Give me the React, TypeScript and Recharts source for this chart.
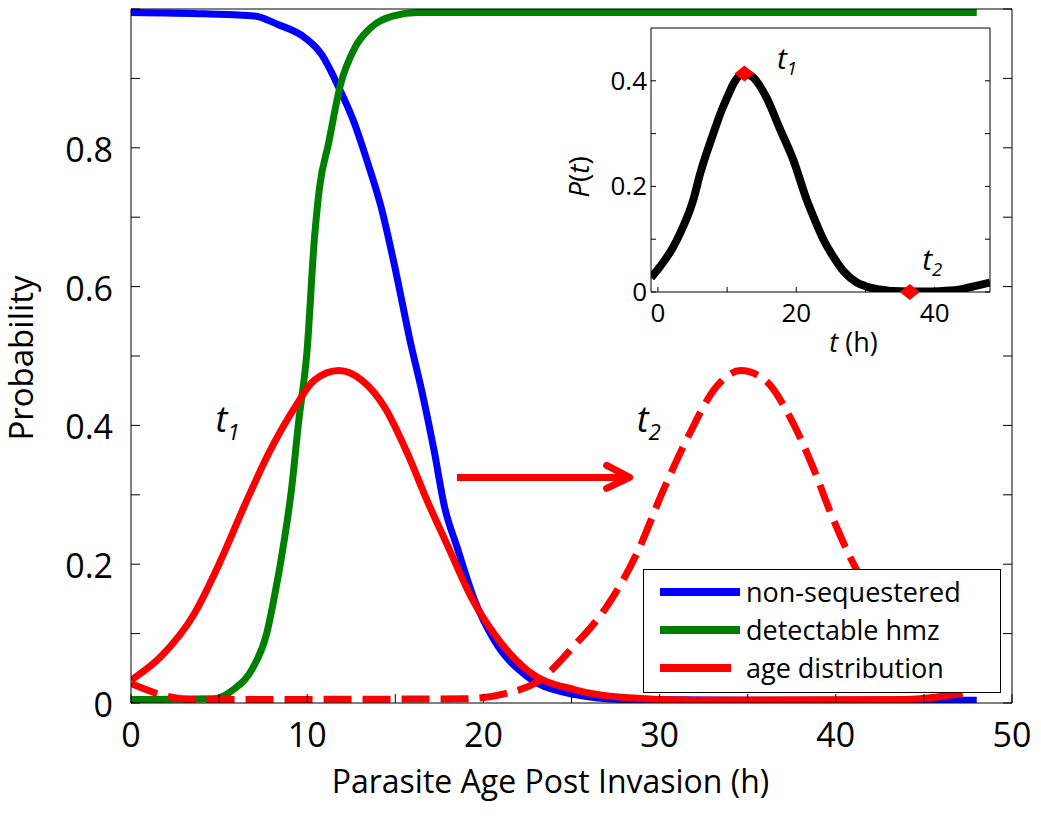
import React from "react";
import { LineChart, Line, XAxis, YAxis, Legend, ReferenceLine, ReferenceDot, CartesianGrid } from "recharts";

const FONT = "'Open Sans', sans-serif";

// main panel: probability vs parasite age (h)
const nonSequestered: [number, number][] = [
  [0, 0.995], [4.2, 0.993], [7.0, 0.99], [8.3, 0.978], [9.85, 0.959], [10.8, 0.935], [11.7, 0.892],
  [12.7, 0.834], [13.4, 0.781], [14.2, 0.714], [14.9, 0.637], [15.9, 0.515], [16.5, 0.45], [17.2, 0.364],
  [17.8, 0.282], [18.5, 0.225], [19.5, 0.148], [20.6, 0.091], [22.5, 0.038], [25.2, 0.012], [28, 0.005],
  [35, 0.004], [48, 0.004],
];
const detectableHmz: [number, number][] = [
  [0, 0.005], [4.7, 0.006], [5.8, 0.019], [6.9, 0.05], [7.7, 0.1], [8.1, 0.148], [8.7, 0.235], [9.1, 0.306],
  [9.5, 0.402], [10.0, 0.51], [10.4, 0.666], [10.7, 0.743], [11.2, 0.805], [11.9, 0.892], [12.7, 0.944],
  [13.6, 0.973], [14.9, 0.99], [16.3, 0.995], [48, 0.995],
];
const ageAtT1: [number, number][] = [
  [0, 0.033], [1.7, 0.067], [3.6, 0.129], [5.1, 0.206], [6.4, 0.282], [7.8, 0.359], [9.3, 0.426],
  [10.4, 0.465], [11.8, 0.479], [13.1, 0.465], [14.4, 0.426], [15.7, 0.359], [16.8, 0.292], [18.0, 0.225],
  [19.3, 0.153], [20.6, 0.1], [22.5, 0.047], [25.2, 0.019], [28, 0.008], [32, 0.004], [44, 0.005],
  [47.2, 0.014],
];
const ageAtT2: [number, number][] = [
  [0, 0.028], [1.7, 0.012], [3.5, 0.005], [18.8, 0.006], [21.3, 0.014], [23.2, 0.033], [25.1, 0.081],
  [27.0, 0.139], [28.7, 0.215], [30.2, 0.306], [31.7, 0.388], [33.2, 0.455], [34.6, 0.479], [36.0, 0.465],
  [37.4, 0.412], [38.7, 0.34], [39.8, 0.268], [40.8, 0.211], [42.0, 0.155], [43.4, 0.1], [45.3, 0.047],
  [48, 0.02],
];
const mainXTicks = [0, 5, 10, 15, 20, 25, 30, 35, 40, 45, 50];
const mainYTicks = [0, 0.1, 0.2, 0.3, 0.4, 0.5, 0.6, 0.7, 0.8, 0.9, 1];
const legendOrder = ["non-sequestered", "detectable hmz", "age distribution"];

// inset: P(t)
const insetCurve: [number, number][] = [
  [-1, 0.027], [0.3, 0.048], [2.2, 0.085], [3.2, 0.111], [5.1, 0.174], [6.1, 0.224], [8.0, 0.3], [9.0, 0.337],
  [10.4, 0.38], [10.9, 0.394], [12.5, 0.414], [13.8, 0.406], [15.7, 0.368], [17.6, 0.31], [19.6, 0.249],
  [21.5, 0.175], [22.5, 0.142], [23.9, 0.1], [25.3, 0.068], [26.8, 0.04], [28.5, 0.02], [30.2, 0.01],
  [32, 0.005], [34, 0.002], [38.7, 0.001], [41.2, 0.002], [43.7, 0.005], [45.1, 0.009], [48, 0.018],
];
const insetMarkers: [number, number][] = [[12.5, 0.414], [36.4, 0]];
const insetXTicks = [0, 10, 20, 30, 40];
const insetYTicks = [0, 0.1, 0.2, 0.3, 0.4];

// annotations (data coords)
const mainTimeLabels = [{ sub: "1", t: 4.8, p: 0.39 }, { sub: "2", t: 28.7, p: 0.39 }];
const insetTimeLabels = [{ sub: "1", t: 17.2, p: 0.423 }, { sub: "2", t: 38.2, p: 0.042 }];
const shiftArrow = { from: 18.5, to: 28.3, p: 0.325 };

const rows = (pts: [number, number][]) => pts.map(([t, p]) => ({ t, p }));

const BottomTick = ({ x, y, payload }: any) => (
  <g>
    <line x1={x} y1={y} x2={x} y2={y - 9} stroke="#000" />
    {payload.value % 10 === 0 && (
      <text x={x} y={y + 44} textAnchor="middle" fontFamily={FONT} fontSize={34} fill="#000">{payload.value}</text>
    )}
  </g>
);
const TopTick = ({ x, y }: any) => <line x1={x} y1={y} x2={x} y2={y + 9} stroke="#000" />;
const LeftTick = ({ x, y, payload }: any) => {
  const v = payload.value;
  const show = Math.round(v * 10) % 2 === 0 && v < 0.95;
  return (
    <g>
      <line x1={x} y1={y} x2={x + 9} y2={y} stroke="#000" />
      {show && (
        <text x={x - 18} y={y + 14} textAnchor="end" fontFamily={FONT} fontSize={34} fill="#000">
          {v === 0 ? "0" : v.toFixed(1)}
        </text>
      )}
    </g>
  );
};
const RightTick = ({ x, y }: any) => <line x1={x} y1={y} x2={x - 9} y2={y} stroke="#000" />;

const InsetBottomTick = ({ x, y, payload }: any) => (
  <g>
    <line x1={x} y1={y} x2={x} y2={y - 5} stroke="#000" />
    {payload.value % 20 === 0 && (
      <text x={x} y={y + 30} textAnchor="middle" fontFamily={FONT} fontSize={26} fill="#000">{payload.value}</text>
    )}
  </g>
);
const InsetTopTick = ({ x, y }: any) => <line x1={x} y1={y} x2={x} y2={y + 5} stroke="#000" />;
const InsetLeftTick = ({ x, y, payload }: any) => {
  const v = payload.value;
  return (
    <g>
      <line x1={x} y1={y} x2={x + 5} y2={y} stroke="#000" />
      {Math.round(v * 10) % 2 === 0 && (
        <text x={x - 4} y={y + 9} textAnchor="end" fontFamily={FONT} fontSize={26} fill="#000">
          {v === 0 ? "0" : v.toFixed(1)}
        </text>
      )}
    </g>
  );
};
const InsetRightTick = ({ x, y }: any) => <line x1={x} y1={y} x2={x - 5} y2={y} stroke="#000" />;

const timeLabel = (sub: string, size: number) => (p: any) => (
  <text x={p.cx} y={p.cy} fontFamily={FONT} fontStyle="italic" fontSize={size} fill="#000">
    t<tspan fontSize={size * 0.62} dy={size * 0.2}>{sub}</tspan>
  </text>
);

const diamond = (p: any) => (
  <polygon
    points={`${p.cx - 10},${p.cy} ${p.cx},${p.cy - 8} ${p.cx + 10},${p.cy} ${p.cx},${p.cy + 8}`}
    fill="#ff0000"
  />
);

const arrowHead = (p: any) => (
  <polyline
    points={`${p.cx - 23},${p.cy - 12} ${p.cx},${p.cy} ${p.cx - 23},${p.cy + 11}`}
    fill="none"
    stroke="#ff0000"
    strokeWidth={7}
    strokeLinecap="round"
    strokeLinejoin="round"
  />
);

const MainXLabel = (props: any) => {
  const vb = props.viewBox;
  return (
    <text x={vb.x + vb.width / 2 - 21} y={vb.y + 90} textAnchor="middle" fontFamily={FONT} fontSize={32} fill="#000">
      Parasite Age Post Invasion (h)
    </text>
  );
};
const MainYLabel = (props: any) => {
  const vb = props.viewBox;
  const cx = vb.x + 33;
  const cy = vb.y + vb.height / 2 + 2;
  return (
    <text x={cx} y={cy} transform={`rotate(-90, ${cx}, ${cy})`} textAnchor="middle" fontFamily={FONT} fontSize={33} fill="#000">
      Probability
    </text>
  );
};
const InsetXLabel = (props: any) => {
  const vb = props.viewBox;
  return (
    <text x={vb.x + vb.width / 2 + 33} y={vb.y + 60} textAnchor="middle" fontFamily={FONT} fontSize={27} fill="#000">
      <tspan fontStyle="italic">t</tspan> (h)
    </text>
  );
};
const InsetYLabel = (props: any) => {
  const vb = props.viewBox;
  const cx = vb.x + 29;
  const cy = vb.y + vb.height / 2 + 17;
  return (
    <text x={cx} y={cy} transform={`rotate(-90, ${cx}, ${cy})`} textAnchor="middle" fontFamily={FONT} fontSize={28} fill="#000">
      <tspan fontStyle="italic">P</tspan>(<tspan fontStyle="italic">t</tspan>)
    </text>
  );
};

const LegendBox = (props: any) => {
  const items = (props.payload || [])
    .filter((it: any) => legendOrder.includes(it.value))
    .sort((a: any, b: any) => legendOrder.indexOf(a.value) - legendOrder.indexOf(b.value));
  return (
    <div
      style={{
        boxSizing: "border-box", width: 358, height: 124, border: "1px solid #000", background: "#fff",
        padding: "3px 0 0 16px", fontFamily: FONT, fontSize: 27, color: "#000",
      }}
    >
      {items.map((it: any) => {
        const short = it.value === "age distribution";
        return (
          <div key={it.value} style={{ display: "flex", alignItems: "center", height: 38 }}>
            <span style={{ display: "inline-block", width: short ? 71 : 80, height: 8, background: it.color, marginRight: short ? 15 : 6 }} />
            <span style={{ lineHeight: "38px" }}>{it.value}</span>
          </div>
        );
      })}
    </div>
  );
};

export default function App() {
  return (
    <div style={{ position: "absolute", left: 0, top: 0, width: 1041, height: 828, background: "#fff" }}>
      <LineChart width={1041} height={828} margin={{ top: 8, right: 28, bottom: 0, left: 0 }}>
        <XAxis
          type="number" dataKey="t" domain={[0, 50]} ticks={mainXTicks} interval={0} allowDataOverflow
          tickSize={0} tickMargin={0} tickLine={false} tick={<BottomTick />} height={125}
          axisLine={{ stroke: "#000" }} label={<MainXLabel />}
        />
        <XAxis
          xAxisId="top" orientation="top" type="number" domain={[0, 50]} ticks={mainXTicks} interval={0}
          allowDataOverflow tickSize={0} tickMargin={0} tickLine={false} tick={<TopTick />} height={1}
          axisLine={{ stroke: "#000" }}
        />
        <YAxis
          type="number" domain={[0, 1]} ticks={mainYTicks} interval={0} allowDataOverflow width={131}
          tickSize={0} tickMargin={0} tickLine={false} tick={<LeftTick />} axisLine={{ stroke: "#000" }}
          label={<MainYLabel />}
        />
        <YAxis
          yAxisId="right" orientation="right" type="number" domain={[0, 1]} ticks={mainYTicks} interval={0}
          allowDataOverflow width={1} tickSize={0} tickMargin={0} tickLine={false} tick={<RightTick />}
          axisLine={{ stroke: "#000" }}
        />
        <Line data={rows(nonSequestered)} dataKey="p" name="non-sequestered" type="monotone" stroke="#0000ff" strokeWidth={7} dot={false} isAnimationActive={false} />
        <Line data={rows(detectableHmz)} dataKey="p" name="detectable hmz" type="monotone" stroke="#008000" strokeWidth={7} dot={false} isAnimationActive={false} />
        <Line data={rows(ageAtT1)} dataKey="p" name="age t1" legendType="none" type="monotone" stroke="#ff0000" strokeWidth={7} dot={false} isAnimationActive={false} />
        <Line data={rows(ageAtT2)} dataKey="p" name="age distribution" type="monotone" stroke="#ff0000" strokeWidth={7} strokeDasharray="28 11" dot={false} isAnimationActive={false} />
        <ReferenceLine
          segment={[{ x: shiftArrow.from, y: shiftArrow.p }, { x: shiftArrow.to, y: shiftArrow.p }]}
          stroke="#ff0000" strokeWidth={7}
        />
        <ReferenceDot x={shiftArrow.to} y={shiftArrow.p} r={0} shape={arrowHead} />
        {mainTimeLabels.map((l) => (
          <ReferenceDot key={l.sub} x={l.t} y={l.p} r={0} shape={timeLabel(l.sub, 36)} />
        ))}
        <Legend
          layout="horizontal" verticalAlign="middle" align="center" content={<LegendBox />}
          wrapperStyle={{ left: 643, top: 569, width: 358, height: 124 }}
        />
      </LineChart>

      <div style={{ position: "absolute", left: 560, top: 0 }}>
        <LineChart width={440} height={360} margin={{ top: 27, right: 9, bottom: 0, left: 0 }}>
          <CartesianGrid horizontal={false} vertical={false} fill="#fff" />
          <XAxis
            type="number" dataKey="t" domain={[-1, 48]} ticks={insetXTicks} interval={0} allowDataOverflow
            tickSize={0} tickMargin={0} tickLine={false} tick={<InsetBottomTick />} height={68}
            axisLine={{ stroke: "#000" }} label={<InsetXLabel />}
          />
          <XAxis
            xAxisId="top" orientation="top" type="number" domain={[-1, 48]} ticks={insetXTicks} interval={0}
            allowDataOverflow tickSize={0} tickMargin={0} tickLine={false} tick={<InsetTopTick />} height={1}
            axisLine={{ stroke: "#000" }}
          />
          <YAxis
            type="number" domain={[0, 0.5]} ticks={insetYTicks} interval={0} allowDataOverflow width={91}
            tickSize={0} tickMargin={0} tickLine={false} tick={<InsetLeftTick />} axisLine={{ stroke: "#000" }}
            label={<InsetYLabel />}
          />
          <YAxis
            yAxisId="right" orientation="right" type="number" domain={[0, 0.5]} ticks={insetYTicks} interval={0}
            allowDataOverflow width={1} tickSize={0} tickMargin={0} tickLine={false} tick={<InsetRightTick />}
            axisLine={{ stroke: "#000" }}
          />
          <Line data={rows(insetCurve)} dataKey="p" type="monotone" stroke="#000" strokeWidth={8} dot={false} isAnimationActive={false} />
          {insetMarkers.map(([t, p]) => (
            <ReferenceDot key={t} x={t} y={p} r={0} shape={diamond} />
          ))}
          {insetTimeLabels.map((l) => (
            <ReferenceDot key={l.sub} x={l.t} y={l.p} r={0} shape={timeLabel(l.sub, 30)} />
          ))}
        </LineChart>
      </div>
    </div>
  );
}
